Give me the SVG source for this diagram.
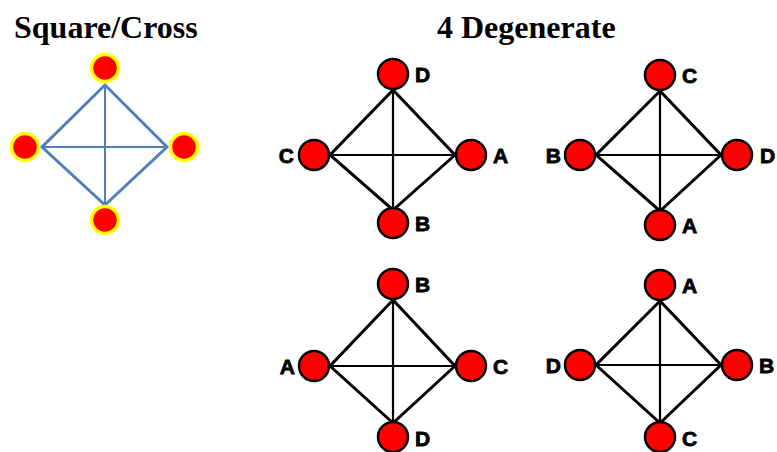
<svg xmlns="http://www.w3.org/2000/svg" width="777" height="452" viewBox="0 0 777 452">
<style>
.title{font-family:"Liberation Serif","Times New Roman",serif;font-weight:bold;font-size:32px;fill:#000}
.lbl{font-family:"Liberation Sans",Arial,sans-serif;font-weight:bold;font-size:21px;fill:#000;stroke:#000;stroke-width:0.8}
.bn{fill:#ff0000;stroke:#ffff00;stroke-width:3.5}
.rn{fill:#ff0000;stroke:#000;stroke-width:2.5}
.be{stroke:#4f7fbd;stroke-width:3;fill:none;stroke-linecap:round}
.bx{stroke:#4f7fbd;stroke-width:2;fill:none}
.ke{stroke:#000;stroke-width:3;fill:none;stroke-linecap:round}
.kx{stroke:#000;stroke-width:2.2;fill:none}
</style>
<rect width="777" height="452" fill="#fff"/>
<text class="title" x="14" y="38">Square/Cross</text>
<text class="title" x="437" y="38">4 Degenerate</text>
<g id="connectors">
<path class="be" d="M105,85 L42,147 L105,205 L167,147 Z"/>
<path class="bx" d="M105,85 L105,205 M42,147 L167,147"/>
<path class="ke" d="M393,90 L330,155 L393,210 L455,155 Z"/>
<path class="kx" d="M393,90 L393,210 M330,155 L455,155"/>
<path class="ke" d="M660,91 L596,155 L660,211 L721,155 Z"/>
<path class="kx" d="M660,91 L660,211 M596,155 L721,155"/>
<path class="ke" d="M393,300 L330,366 L393,423 L455,366 Z"/>
<path class="kx" d="M393,300 L393,423 M330,366 L455,366"/>
<path class="ke" d="M660,301 L596,365 L660,423 L721,365 Z"/>
<path class="kx" d="M660,301 L660,423 M596,365 L721,365"/>
</g>
<g id="sq-top"><circle class="bn" cx="105" cy="68" r="13.5"/></g>
<g id="sq-left"><circle class="bn" cx="25" cy="147" r="13.5"/></g>
<g id="sq-right"><circle class="bn" cx="184" cy="147" r="13.5"/></g>
<g id="sq-bottom"><circle class="bn" cx="105" cy="220" r="13.5"/></g>

<g id="g1-D"><circle class="rn" cx="393" cy="74" r="15"/><text class="lbl" x="415" y="82">D</text></g>
<g id="g1-C"><circle class="rn" cx="314" cy="155" r="15"/><text class="lbl" x="294" y="163" text-anchor="end">C</text></g>
<g id="g1-A"><circle class="rn" cx="471" cy="155" r="15"/><text class="lbl" x="493" y="163">A</text></g>
<g id="g1-B"><circle class="rn" cx="393" cy="223" r="15"/><text class="lbl" x="415" y="231">B</text></g>

<g id="g2-C"><circle class="rn" cx="660" cy="75" r="15"/><text class="lbl" x="682" y="83">C</text></g>
<g id="g2-B"><circle class="rn" cx="580" cy="155" r="15"/><text class="lbl" x="561" y="163" text-anchor="end">B</text></g>
<g id="g2-D"><circle class="rn" cx="737" cy="155" r="15"/><text class="lbl" x="760" y="163">D</text></g>
<g id="g2-A"><circle class="rn" cx="660" cy="225" r="15"/><text class="lbl" x="682" y="233">A</text></g>

<g id="g3-B"><circle class="rn" cx="393" cy="284" r="15"/><text class="lbl" x="415" y="292">B</text></g>
<g id="g3-A"><circle class="rn" cx="314" cy="366" r="15"/><text class="lbl" x="295" y="374" text-anchor="end">A</text></g>
<g id="g3-C"><circle class="rn" cx="471" cy="366" r="15"/><text class="lbl" x="493" y="374">C</text></g>
<g id="g3-D"><circle class="rn" cx="393" cy="437" r="15"/><text class="lbl" x="415" y="446">D</text></g>

<g id="g4-A"><circle class="rn" cx="660" cy="285" r="15"/><text class="lbl" x="682" y="293">A</text></g>
<g id="g4-D"><circle class="rn" cx="580" cy="365" r="15"/><text class="lbl" x="561" y="373" text-anchor="end">D</text></g>
<g id="g4-B"><circle class="rn" cx="737" cy="365" r="15"/><text class="lbl" x="759" y="373">B</text></g>
<g id="g4-C"><circle class="rn" cx="660" cy="437" r="15"/><text class="lbl" x="682" y="446">C</text></g>
</svg>
